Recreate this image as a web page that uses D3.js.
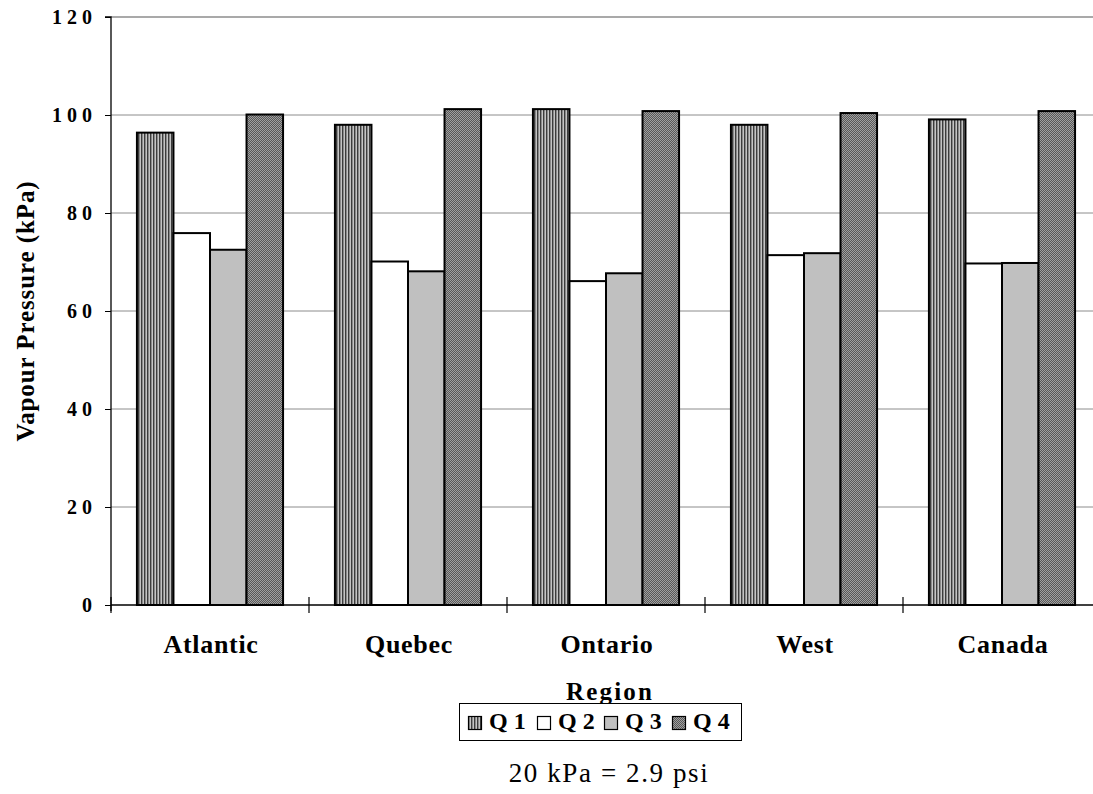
<!DOCTYPE html>
<html>
<head>
<meta charset="utf-8">
<script src="https://cdn.jsdelivr.net/npm/d3@7"></script>
<style>
  html, body { margin: 0; padding: 0; background: #fff; }
  svg { display: block; font-family: "Liberation Serif", "Times New Roman", serif; }
</style>
</head>
<body>
<svg id="chart" width="1093" height="794"></svg>
<script>
// Regions and quarterly vapour pressure (kPa)
const categories = ["Atlantic", "Quebec", "Ontario", "West", "Canada"];
const seriesNames = ["Q 1", "Q 2", "Q 3", "Q 4"];
const q1 = [96.4, 98.0, 101.2, 98.0, 99.1];
const q2 = [75.9, 70.1, 66.1, 71.4, 69.7];
const q3 = [72.5, 68.1, 67.7, 71.8, 69.8];
const q4 = [100.1, 101.2, 100.8, 100.4, 100.8];
const yTicks = [0, 20, 40, 60, 80, 100, 120];

const seriesValues = [q1, q2, q3, q4];

const svg = d3.select("#chart");
const plotLeft = 111, plotRight = 1101, plotTop = 17, plotBottom = 605;

// Fill patterns
const defs = svg.append("defs");
const pStripe = defs.append("pattern").attr("id", "pQ1")
  .attr("patternUnits", "userSpaceOnUse").attr("width", 3).attr("height", 4);
pStripe.append("rect").attr("width", 3).attr("height", 4).attr("fill", "#c4c4c4");
pStripe.append("rect").attr("width", 1).attr("height", 4).attr("fill", "#3c3c3c");
pStripe.append("rect").attr("x", 1).attr("width", 1).attr("height", 4).attr("fill", "#8a8a8a");

const pCheck = defs.append("pattern").attr("id", "pQ4")
  .attr("patternUnits", "userSpaceOnUse").attr("width", 2).attr("height", 2);
pCheck.append("rect").attr("width", 2).attr("height", 2).attr("fill", "#a0a0a0");
pCheck.append("rect").attr("width", 1).attr("height", 1).attr("fill", "#585858");
pCheck.append("rect").attr("x", 1).attr("y", 1).attr("width", 1).attr("height", 1).attr("fill", "#585858");

const fills = ["url(#pQ1)", "#ffffff", "#c0c0c0", "url(#pQ4)"];

// Scales
const x0 = d3.scaleBand().domain(categories).range([plotLeft, plotRight]).padding(0);
const x1 = d3.scaleBand().domain(seriesNames).range([0, x0.bandwidth()])
  .paddingInner(0).paddingOuter(0.71);
const y = d3.scaleLinear().domain([0, 120]).range([plotBottom, plotTop]);

// Gridlines
svg.append("g").selectAll("line").data(yTicks.filter(d => d > 0)).join("line")
  .attr("x1", plotLeft).attr("x2", plotRight)
  .attr("y1", d => y(d)).attr("y2", d => y(d))
  .attr("stroke", "#8c8c8c").attr("stroke-width", d => d === 120 ? 1.6 : 1);

// Bars
const groups = svg.append("g").selectAll("g").data(categories).join("g")
  .attr("transform", c => `translate(${x0(c)},0)`);
groups.selectAll("rect")
  .data((c, ci) => seriesNames.map((s, si) => ({ s, si, v: seriesValues[si][ci] })))
  .join("rect")
  .attr("x", d => x1(d.s))
  .attr("y", d => y(d.v))
  .attr("width", x1.bandwidth())
  .attr("height", d => y(0) - y(d.v))
  .attr("fill", d => fills[d.si])
  .attr("stroke", "#000").attr("stroke-width", 2);

// Y axis
const yAxis = svg.append("g").attr("transform", `translate(${plotLeft},0)`)
  .call(d3.axisLeft(y).tickValues(yTicks).tickSize(6).tickPadding(8).tickFormat(d3.format("d")));
yAxis.select(".domain").attr("stroke", "#000").attr("stroke-width", 1.3)
  .attr("d", `M-6,${plotTop}H0V${plotBottom + 6}`);
yAxis.selectAll(".tick line").attr("stroke", "#000");
yAxis.selectAll(".tick text")
  .attr("font-family", "Liberation Serif").attr("font-weight", "bold")
  .attr("font-size", 20).style("letter-spacing", "5px").attr("fill", "#000");

// X axis baseline and boundary ticks
svg.append("line").attr("x1", plotLeft).attr("x2", plotRight)
  .attr("y1", plotBottom).attr("y2", plotBottom).attr("stroke", "#000").attr("stroke-width", 1.3);
const bounds = categories.map(c => x0(c)).concat([x0(categories[categories.length - 1]) + x0.bandwidth()]);
svg.append("g").selectAll("line").data(bounds).join("line")
  .attr("x1", d => d).attr("x2", d => d)
  .attr("y1", plotBottom - 8).attr("y2", plotBottom + 8)
  .attr("stroke", "#000").attr("stroke-width", 1.2);

// Category labels
svg.append("g").selectAll("text").data(categories).join("text")
  .attr("x", c => x0(c) + x0.bandwidth() / 2 + 1)
  .attr("y", 653)
  .attr("text-anchor", "middle")
  .attr("font-weight", "bold").attr("font-size", 26)
  .style("letter-spacing", "0.7px")
  .text(c => c);

// Axis titles
svg.append("text")
  .attr("transform", "translate(34,311) rotate(-90)")
  .attr("text-anchor", "middle")
  .attr("font-weight", "bold").attr("font-size", 25)
  .style("letter-spacing", "0.9px")
  .text("Vapour Pressure (kPa)");

svg.append("text")
  .attr("x", 610).attr("y", 700)
  .attr("text-anchor", "middle")
  .attr("font-weight", "bold").attr("font-size", 25)
  .style("letter-spacing", "2.2px")
  .text("Region");

// Legend
const legend = svg.append("g");
legend.append("rect").attr("x", 459.5).attr("y", 703.5).attr("width", 282).attr("height", 37)
  .attr("fill", "#fff").attr("stroke", "#000").attr("stroke-width", 1);
const legX = [468, 537, 604, 672];
const item = legend.selectAll("g.item").data(seriesNames).join("g").attr("class", "item")
  .attr("transform", (d, i) => `translate(${legX[i]},716)`);
item.append("rect").attr("x", 0.5).attr("y", 0.5).attr("width", 13).attr("height", 13)
  .attr("fill", (d, i) => fills[i]).attr("stroke", "#000").attr("stroke-width", 1.2);
item.append("text").attr("x", 21).attr("y", 13)
  .attr("font-weight", "bold").attr("font-size", 24)
  .text(d => d);

// Conversion note
svg.append("text")
  .attr("x", 609).attr("y", 782)
  .attr("text-anchor", "middle")
  .attr("font-size", 27)
  .style("letter-spacing", "1.6px")
  .text("20 kPa = 2.9 psi");
</script>
</body>
</html>
